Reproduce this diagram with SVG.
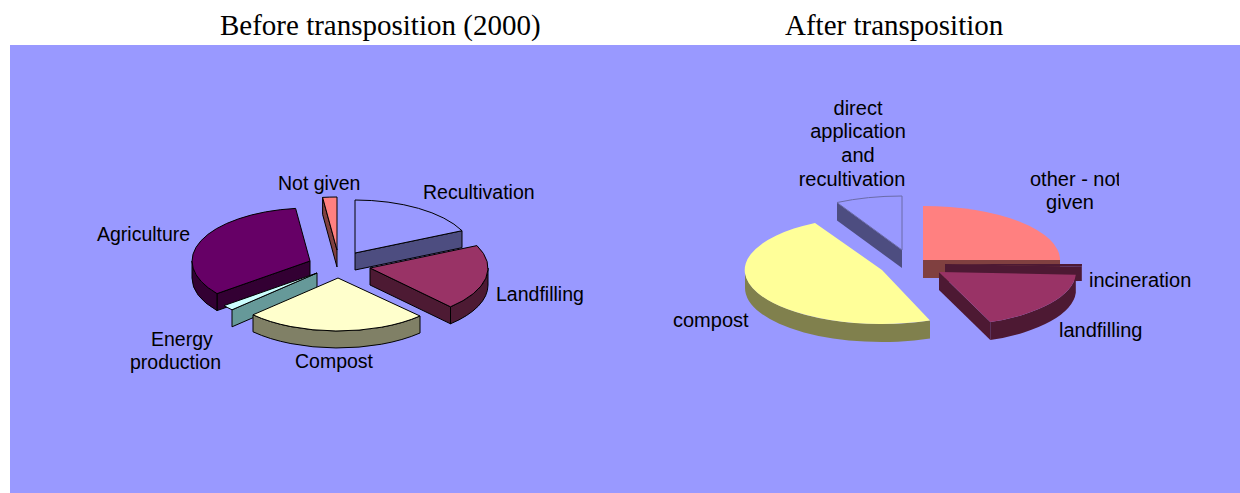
<svg xmlns="http://www.w3.org/2000/svg" width="1240" height="493" viewBox="0 0 1240 493">
<style>
.title{font-family:"Liberation Serif","Times New Roman",serif;font-size:29px;fill:#000}
.lbl{font-family:"Liberation Sans",Arial,sans-serif;font-size:19.5px;fill:#000}
.lblr{font-family:"Liberation Sans",Arial,sans-serif;font-size:20px;fill:#000}
.lp path,.lp polygon{stroke:#000;stroke-width:1;stroke-linejoin:round}
</style>
<defs>
<clipPath id="clipOther"><rect x="1000" y="160" width="119" height="60"/></clipPath>
</defs>
<rect x="0" y="0" width="1240" height="493" fill="#ffffff"/>
<rect x="10" y="45" width="1230" height="448" fill="#9999FF"/>
<text class="title" x="220" y="34.5">Before transposition (2000)</text>
<text class="title" x="785" y="34.5">After transposition</text>

<g id="left-pie" class="lp">
  <g id="slice-not-given">
    <polygon points="322.6,197.4 337,250 337,267 322.6,214.4" fill="#804040"/>
    <path d="M337,250 L322.6,197.4 A118,53 0 0 1 337,197 Z" fill="#FF8080"/>
  </g>
  <g id="slice-recultivation">
    <polygon points="355,253 462,230.7 462,247.7 355,270" fill="#4D4D80"/>
    <path d="M355,253 L355,200 A118,53 0 0 1 462,230.7 Z" fill="#9999FF"/>
  </g>
  <g id="slice-agriculture">
    <polygon points="310,261 217,293.6 217,310.6 310,278" fill="#330033"/>
    <path d="M217,293.6 A118,53 0 0 1 192,261 L192,278 A118,53 0 0 0 217,310.6 Z" fill="#330033"/>
    <path d="M310,261 L217,293.6 A118,53 0 0 1 295.6,208.4 Z" fill="#660066"/>
  </g>
  <g id="slice-landfilling">
    <polygon points="370,268 450.5,306.8 450.5,323.8 370,285" fill="#4D1A33"/>
    <path d="M488,268 A118,53 0 0 1 450.5,306.8 L450.5,323.8 A118,53 0 0 0 488,285 Z" fill="#4D1A33"/>
    <path d="M370,268 L476.9,245.6 A118,53 0 0 1 450.5,306.8 Z" fill="#993366"/>
  </g>
  <g id="slice-energy">
    <polygon points="317,273 232,309.8 232,326.8 317,290" fill="#669999"/>
    <path d="M317,273 L232,309.8 A118,53 0 0 1 224,305.6 Z" fill="#CCFFFF"/>
  </g>
  <g id="slice-compost">
    <path d="M420,316 A118,53 0 0 1 253,314.8 L253,331.8 A118,53 0 0 0 420,333 Z" fill="#808066"/>
    <path d="M338,278 L420,316 A118,53 0 0 1 253,314.8 Z" fill="#FFFFCC"/>
  </g>
</g>

<g id="left-labels">
  <text class="lbl" x="278" y="190">Not given</text>
  <text class="lbl" x="423" y="199">Recultivation</text>
  <text class="lbl" x="97" y="241">Agriculture</text>
  <text class="lbl" x="496" y="301">Landfilling</text>
  <text class="lbl" x="151" y="346">Energy</text>
  <text class="lbl" x="130" y="369">production</text>
  <text class="lbl" x="295" y="368">Compost</text>
</g>

<g id="right-pie">
  <g id="slice-direct-application">
    <polygon points="837,202.5 902,250 902,268 837,220.5" fill="#4D4D80"/>
    <path d="M902,250 L837,202.5 A137,54 0 0 1 902,196 Z" fill="#9999FF" stroke="#6B6BA8" stroke-width="1"/>
  </g>
  <g id="slice-other">
    <rect x="923" y="260" width="137" height="18" fill="#804040"/>
    <path d="M923,260 L923,206 A137,54 0 0 1 1060,260 Z" fill="#FF8080"/>
  </g>
  <g id="slice-incineration">
    <polygon points="945,264 1081.8,266.8 1081.8,281 945,282" fill="#4D1933"/>
    <path d="M945,264 L1082,264 A137,54 0 0 1 1081.8,266.8 Z" fill="#4D1933"/>
  </g>
  <g id="slice-landfilling-r">
    <polygon points="939,272 990.3,322.1 990.3,340.1 939,290" fill="#4D1933"/>
    <path d="M1075.8,274.8 A137,54 0 0 1 990.3,322.1 L990.3,340.1 A137,54 0 0 0 1075.8,292.8 Z" fill="#4D1933"/>
    <path d="M939,272 L1075.8,274.8 A137,54 0 0 1 990.3,322.1 Z" fill="#993366"/>
  </g>
  <g id="slice-compost-r">
    <path d="M930,320.6 A137,54 0 0 1 745,270 L745,288 A137,54 0 0 0 930,338.6 Z" fill="#80804D"/>
    <path d="M882,270 L930,320.6 A137,54 0 0 1 815,222.9 Z" fill="#FFFF99"/>
  </g>
</g>

<g id="right-labels">
  <text class="lblr" x="858" y="115" text-anchor="middle">direct</text>
  <text class="lblr" x="858" y="138" text-anchor="middle">application</text>
  <text class="lblr" x="858" y="162" text-anchor="middle">and</text>
  <text class="lblr" x="852" y="186" text-anchor="middle">recultivation</text>
  <text class="lblr" x="1030" y="186" clip-path="url(#clipOther)">other - not</text>
  <text class="lblr" x="1070" y="209" text-anchor="middle">given</text>
  <text class="lblr" x="1089" y="287">incineration</text>
  <text class="lblr" x="1059" y="337">landfilling</text>
  <text class="lblr" x="673" y="327">compost</text>
</g>
</svg>
